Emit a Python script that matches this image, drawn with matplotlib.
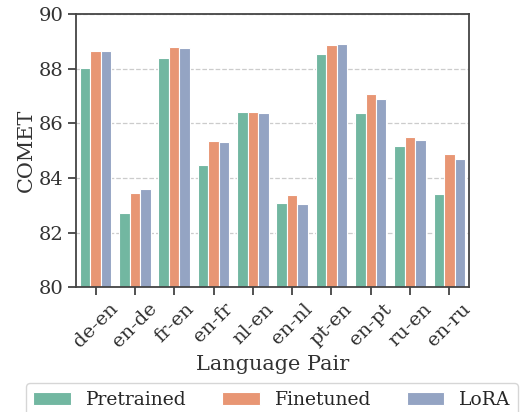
import numpy as np
import matplotlib
matplotlib.use("Agg")
import matplotlib.pyplot as plt
import seaborn as sns

# values
pairs = ["de-en", "en-de", "fr-en", "en-fr", "nl-en", "en-nl", "pt-en", "en-pt", "ru-en", "en-ru"]
pretrained = [88.03, 82.70, 88.39, 84.49, 86.43, 83.08, 88.53, 86.39, 85.18, 83.40]
finetuned = [88.63, 83.44, 88.78, 85.34, 86.41, 83.36, 88.86, 87.07, 85.51, 84.88]
lora = [88.63, 83.59, 88.74, 85.33, 86.37, 83.06, 88.89, 86.89, 85.39, 84.68]
series_names = ["Pretrained", "Finetuned", "LoRA"]

sns.set_style("ticks")
plt.rcParams['font.family'] = ['DejaVu Serif']

colors = ["#72b7a1", "#e89674", "#94a4c3"]

fig = plt.figure(figsize=(5.2, 4.12), dpi=100)
ax = fig.add_axes([0.146, 0.303, 0.756, 0.663])

x = np.arange(len(pairs))
w = 0.8 / 3
for i, vals in enumerate([pretrained, finetuned, lora]):
    ax.bar(x + (i - 1) * w, vals, width=w, color=colors[i],
           edgecolor="white", linewidth=0.8, label=series_names[i], zorder=2)

ax.set_axisbelow(True)
ax.set_ylim(80, 90)
ax.set_yticks(np.arange(80, 91, 2))
ax.set_xlim(-0.5, len(pairs) - 0.5)
ax.set_xticks(x)
ax.set_xticklabels(pairs, rotation=45, ha="center")
ax.tick_params(axis="both", labelsize=14, colors="#333333", labelcolor="#333333",
               direction="out", length=5.5, width=1.2, bottom=True, left=True)
ax.grid(axis="y", linestyle="--", color="#cccccc", linewidth=0.9)
for s in ax.spines.values():
    s.set_color("#444444")
    s.set_linewidth(1.3)
    s.set_zorder(5)

ax.set_xlabel("Language Pair", fontsize=15, color="#333333", labelpad=3)
ax.set_ylabel("COMET", fontsize=15, color="#333333", labelpad=2)

ax.legend(loc="upper left", bbox_to_anchor=(-0.127, -0.352), ncol=3, fontsize=13.5,
          frameon=True, handlelength=2.0, columnspacing=1.9, borderaxespad=0)

fig.savefig("out.png", dpi=100)
